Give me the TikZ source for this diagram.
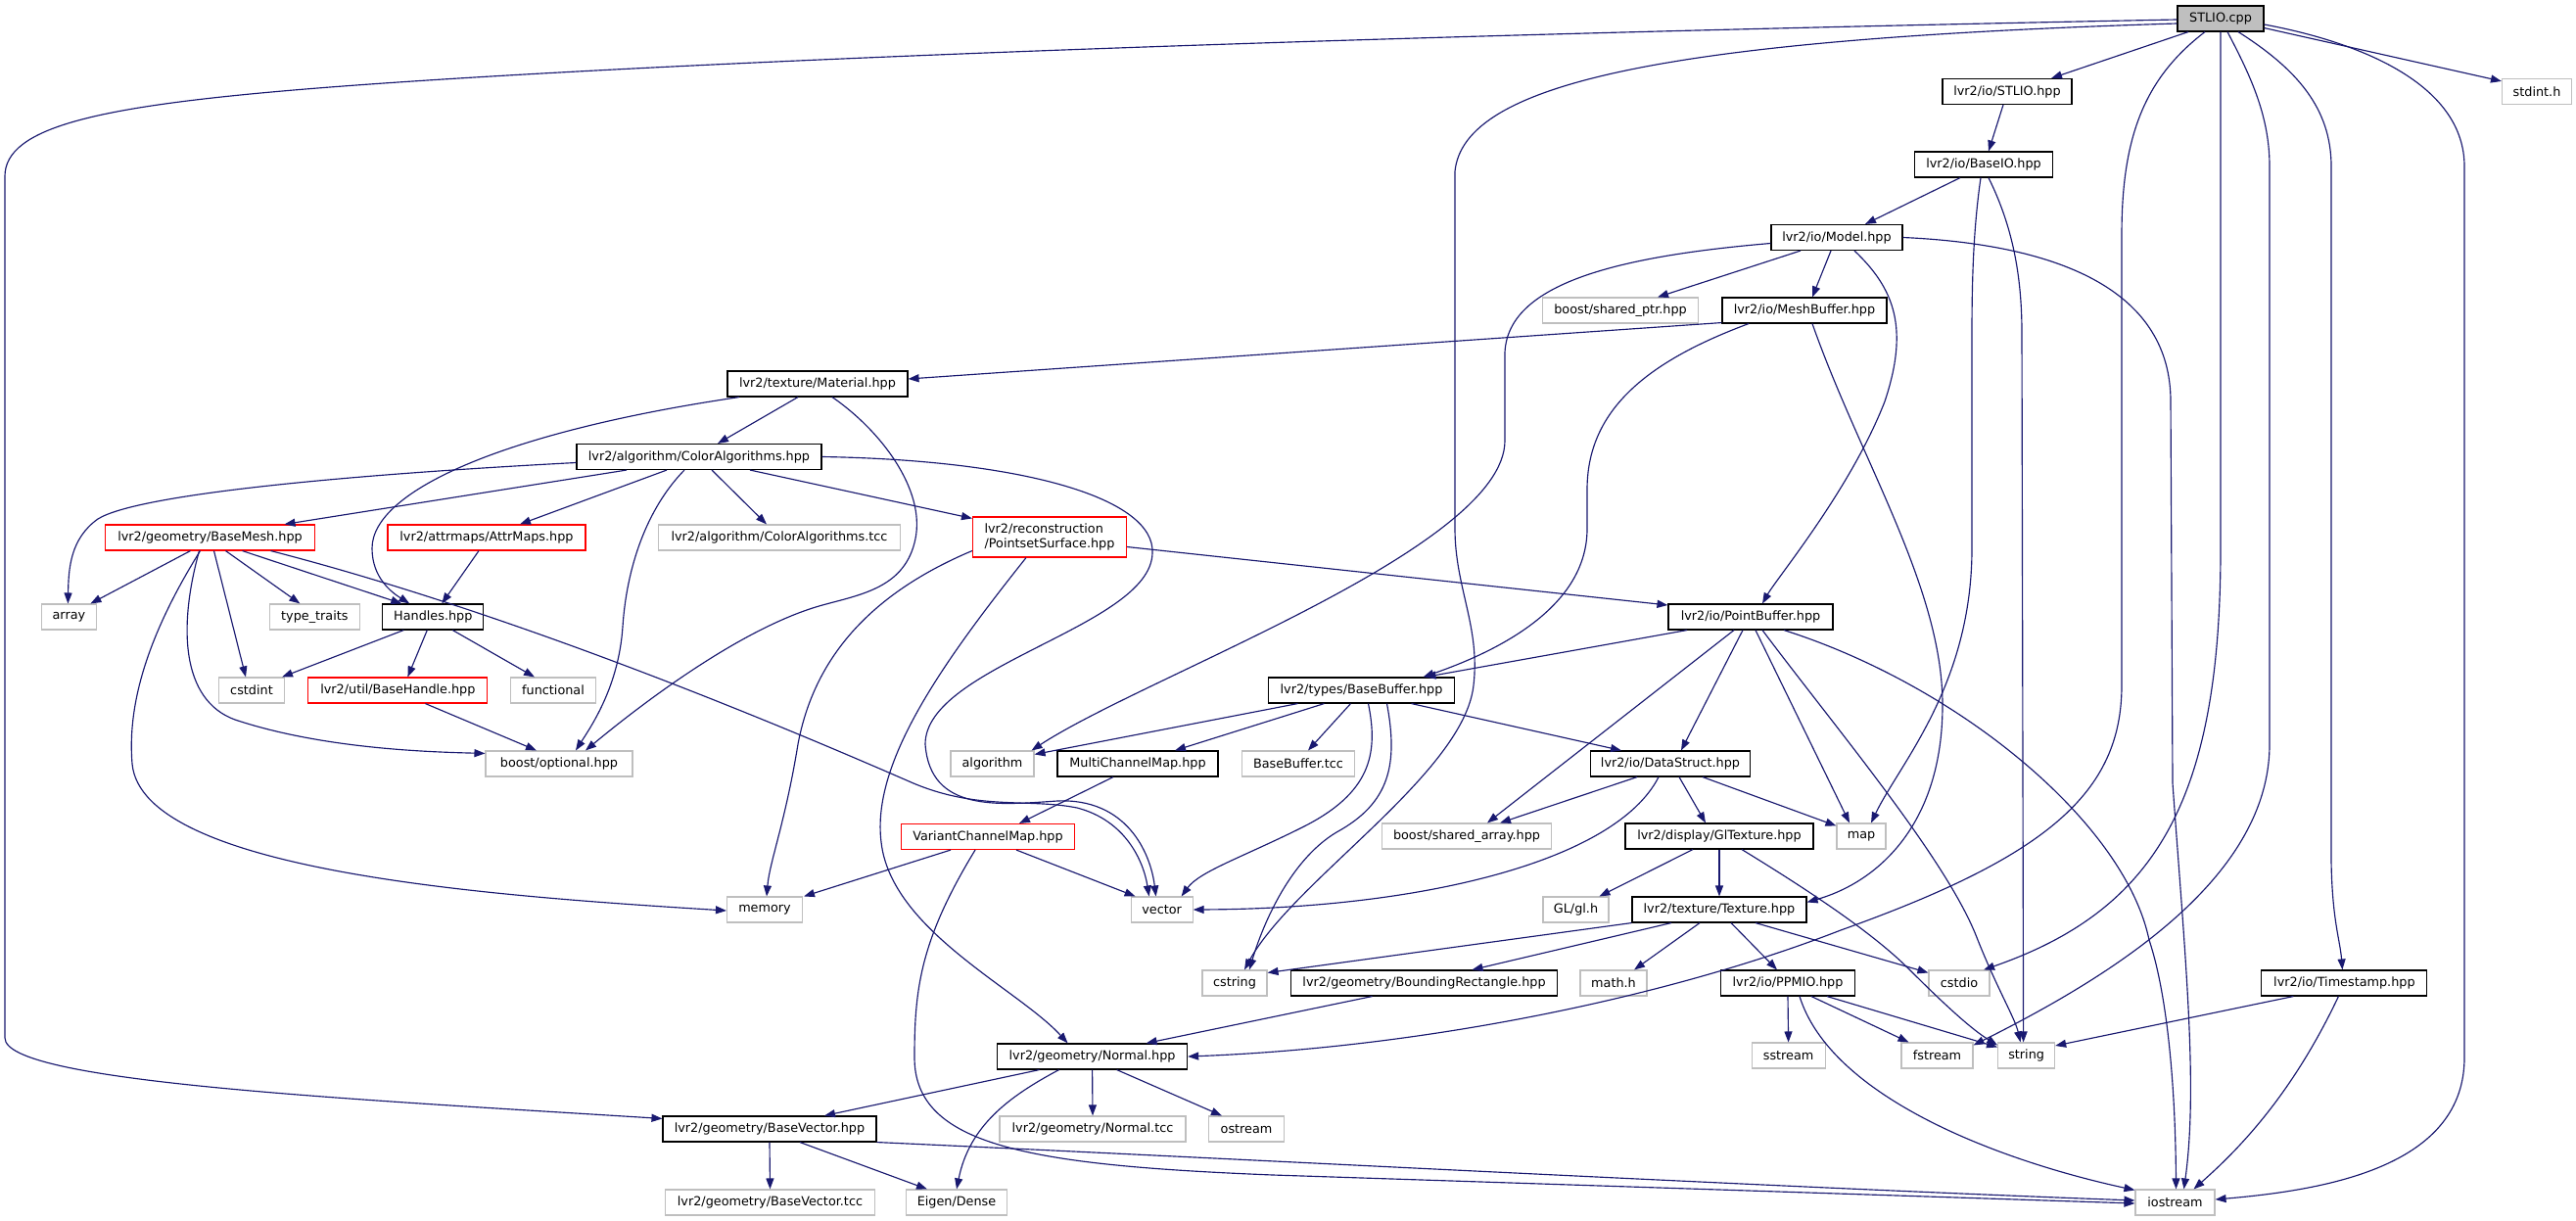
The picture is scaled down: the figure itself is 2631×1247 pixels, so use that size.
\documentclass[tikz,border=0pt]{standalone}
\usepackage{fontspec}
\setmainfont{DejaVu Sans}
\usetikzlibrary{arrows.meta}
\definecolor{eblue}{HTML}{191970}
\definecolor{gborder}{HTML}{BFBFBF}
\definecolor{rootfill}{HTML}{BFBFBF}
\definecolor{rborder}{HTML}{FF0000}
\newcommand{\nodefnt}{\fontsize{12.8}{15}\selectfont}
\tikzset{
  nb/.style={draw=black, line width=1.1pt, fill=white, minimum height=26pt, inner sep=0pt, font=\nodefnt},
  ng/.style={nb, draw=gborder},
  nr/.style={nb, draw=rborder},
  e/.style={draw=eblue, line width=1.15pt, -{Triangle[length=11pt,width=8pt]}}
}
\begin{document}
\begin{tikzpicture}[x=1pt,y=-1pt]
\fill[white] (0,0) rectangle (2631,1247);
\useasboundingbox (0,0) rectangle (2631,1247);

% nodes
\node[nb, fill=rootfill, minimum width=88pt] (root) at (2268,19) {STLIO.cpp};
\node[nb, minimum width=132pt] (stliohpp) at (2050,93.5) {lvr2/io/STLIO.hpp};
\node[ng, minimum width=71pt] (stdint) at (2591,93.5) {stdint.h};
\node[nb, minimum width=141pt] (baseio) at (2026,168) {lvr2/io/BaseIO.hpp};
\node[nb, minimum width=134pt] (model) at (1876,242.5) {lvr2/io/Model.hpp};
\node[ng, minimum width=159pt] (sharedptr) at (1655,317) {boost/shared\_ptr.hpp};
\node[nb, minimum width=168pt] (meshbuf) at (1843,317) {lvr2/io/MeshBuffer.hpp};
\node[nb, minimum width=184pt] (material) at (835,392) {lvr2/texture/Material.hpp};
\node[nb, minimum width=250pt] (coloralg) at (714,466.5) {lvr2/algorithm/ColorAlgorithms.hpp};
\node[nr, minimum width=214pt] (basemesh) at (214.5,549) {lvr2/geometry/BaseMesh.hpp};
\node[nr, minimum width=202pt] (attrmaps) at (497,549) {lvr2/attrmaps/AttrMaps.hpp};
\node[ng, minimum width=247pt] (coltcc) at (796,549) {lvr2/algorithm/ColorAlgorithms.tcc};
\node[nr, minimum width=157pt, minimum height=41pt, align=left] (pss) at (1072,548.5) {lvr2/reconstruction\\/PointsetSurface.hpp};
\node[ng, minimum width=56pt] (array) at (70.4,630) {array};
\node[ng, minimum width=92pt] (typetraits) at (321.4,630) {type\_traits};
\node[nb, minimum width=103pt] (handles) at (442.3,630) {Handles.hpp};
\node[nb, minimum width=168pt] (pointbuf) at (1788,630) {lvr2/io/PointBuffer.hpp};
\node[ng, minimum width=67pt] (cstdint) at (257,705) {cstdint};
\node[nr, minimum width=183pt] (basehandle) at (406.4,705) {lvr2/util/BaseHandle.hpp};
\node[ng, minimum width=87pt] (functional) at (565,705) {functional};
\node[nb, minimum width=190pt] (basebuf) at (1390.5,705) {lvr2/types/BaseBuffer.hpp};
\node[ng, minimum width=150pt] (optional) at (571,780) {boost/optional.hpp};
\node[ng, minimum width=85pt] (algorithm) at (1013.5,780) {algorithm};
\node[nb, minimum width=164pt] (mcm) at (1162,780) {MultiChannelMap.hpp};
\node[ng, minimum width=115pt] (bbtcc) at (1326,780) {BaseBuffer.tcc};
\node[nb, minimum width=163pt] (datastruct) at (1706,780) {lvr2/io/DataStruct.hpp};
\node[nr, minimum width=177pt] (vcm) at (1009,854.5) {VariantChannelMap.hpp};
\node[ng, minimum width=173pt] (sharedarr) at (1498,854) {boost/shared\_array.hpp};
\node[nb, minimum width=192pt] (gltex) at (1756,854) {lvr2/display/GlTexture.hpp};
\node[ng, minimum width=50pt] (map) at (1901,854) {map};
\node[ng, minimum width=77pt] (memory) at (781,929) {memory};
\node[ng, minimum width=63pt] (vector) at (1186.6,929) {vector};
\node[ng, minimum width=67pt] (glh) at (1609.5,929) {GL/gl.h};
\node[nb, minimum width=178pt] (texture) at (1756,929) {lvr2/texture/Texture.hpp};
\node[ng, minimum width=66pt] (cstring) at (1261,1004) {cstring};
\node[nb, minimum width=272pt] (boundrect) at (1454.5,1004) {lvr2/geometry/BoundingRectangle.hpp};
\node[ng, minimum width=68pt] (mathh) at (1648,1004) {math.h};
\node[nb, minimum width=137pt] (ppmio) at (1826,1004) {lvr2/io/PPMIO.hpp};
\node[ng, minimum width=62pt] (cstdio) at (2001,1004) {cstdio};
\node[nb, minimum width=169pt] (timestamp) at (2394.4,1004) {lvr2/io/Timestamp.hpp};
\node[nb, minimum width=194pt] (normal) at (1115.6,1079) {lvr2/geometry/Normal.hpp};
\node[ng, minimum width=75pt] (sstream) at (1826.6,1078) {sstream};
\node[ng, minimum width=73pt] (fstream) at (1978.5,1078) {fstream};
\node[ng, minimum width=58pt] (string) at (2069.6,1078) {string};
\node[nb, minimum width=218pt] (basevec) at (786,1153) {lvr2/geometry/BaseVector.hpp};
\node[ng, minimum width=190pt] (normaltcc) at (1116,1153) {lvr2/geometry/Normal.tcc};
\node[ng, minimum width=77pt] (ostream) at (1273,1153) {ostream};
\node[ng, minimum width=214pt] (bvtcc) at (786.5,1228) {lvr2/geometry/BaseVector.tcc};
\node[ng, minimum width=103pt] (eigen) at (977,1228) {Eigen/Dense};
\node[ng, minimum width=81pt] (iostream) at (2221.5,1228) {iostream};

% edges from STLIO.cpp
\draw[e] ([xshift=-33pt]root.south) -- ([xshift=45pt]stliohpp.north);
\draw[e] ([yshift=4pt]root.south east) -- ([yshift=-3pt]stdint.north west);
\draw[e] ([yshift=-1pt]root.west) .. controls (1200,40) and (560,70) .. (300,92) .. controls (100,109) and (5,130) .. (5,180) -- (5,1060) .. controls (5,1105) and (350,1122) .. ([yshift=-3pt]basevec.north west);
\draw[e] ([yshift=-5pt]root.west) .. controls (1700,40) and (1495,85) .. (1486,175) -- (1486,540) .. controls (1486,600) and (1512,640) .. (1505,700) .. controls (1495,790) and (1320,900) .. ([xshift=10pt]cstring.north);
\draw[e] ([xshift=-16pt]root.south) .. controls (2190,80) and (2167,140) .. (2167,240) -- (2167,700) .. controls (2167,810) and (2090,875) .. (1880,950) .. controls (1700,1020) and (1450,1070) .. (normal.east);
\draw[e] (root.south) -- (2268,560) .. controls (2268,820) and (2200,930) .. ([xshift=25pt]cstdio.north);
\draw[e] ([xshift=7pt]root.south) .. controls (2300,80) and (2318,120) .. (2318,170) -- (2318,760) .. controls (2318,900) and (2150,1000) .. ([yshift=-3pt]fstream.north east);
\draw[e] ([xshift=18pt]root.south) .. controls (2345,70) and (2381,110) .. (2381,170) -- (2381,880) .. controls (2382,940) and (2390,960) .. ([xshift=-2pt]timestamp.north);
\draw[e] ([yshift=-6pt]root.east) .. controls (2420,45) and (2517,90) .. (2517,170) -- (2517,1080) .. controls (2517,1190) and (2380,1215) .. ([yshift=3pt]iostream.east);

% STLIO.hpp, BaseIO
\draw[e] ([xshift=-4pt]stliohpp.south) -- ([xshift=5pt]baseio.north);
\draw[e] ([xshift=-24pt]baseio.south) -- ([xshift=29pt]model.north);
\draw[e] ([xshift=-3pt]baseio.south) .. controls (2016,230) and (2014,280) .. (2014,340) -- (2014,560) .. controls (2014,700) and (1940,780) .. ([xshift=10pt]map.north);
\draw[e] ([xshift=5pt]baseio.south) .. controls (2055,230) and (2065,280) .. (2065,340) -- ([xshift=-3pt]string.north);

% Model
\draw[e] ([xshift=-37pt]model.south) -- ([xshift=38pt]sharedptr.north);
\draw[e] ([xshift=-6pt]model.south) -- ([xshift=8pt]meshbuf.north);
\draw[e] ([xshift=18pt]model.south) .. controls (1935,295) and (1950,335) .. (1925,410) .. controls (1890,500) and (1815,590) .. ([xshift=12pt]pointbuf.north);
\draw[e] ([yshift=-6pt]model.west) .. controls (1650,262) and (1540,290) .. (1537,360) -- (1537,450) .. controls (1537,560) and (1170,690) .. ([xshift=-3pt]algorithm.north east);
\draw[e] (model.east) .. controls (2110,250) and (2217,300) .. (2217,410) -- (2219,800) .. controls (2232,980) and (2245,1110) .. ([xshift=9pt]iostream.north);

% MeshBuffer
\draw[e] ([yshift=1pt]meshbuf.south west) -- ([yshift=5pt]material.east);
\draw[e] ([xshift=-57pt]meshbuf.south) .. controls (1680,370) and (1621,420) .. (1621,500) -- (1621,540) .. controls (1621,620) and (1530,665) .. ([xshift=63pt]basebuf.north);
\draw[e] ([xshift=8pt]meshbuf.south) .. controls (1900,470) and (1984,600) .. (1984,720) .. controls (1984,840) and (1920,900) .. ([yshift=-6pt]texture.north east);

% Material
\draw[e] ([xshift=-20pt]material.south) -- ([xshift=19pt]coloralg.north);
\draw[e] ([xshift=-80pt]material.south) .. controls (520,440) and (380,500) .. (380,560) .. controls (380,590) and (400,605) .. ([xshift=-24pt]handles.north);
\draw[e] ([xshift=15pt]material.south) .. controls (900,440) and (945,500) .. (935,550) .. controls (925,600) and (880,607) .. (840,618) .. controls (760,640) and (660,715) .. ([xshift=27pt]optional.north);

% ColorAlgorithms
\draw[e] ([yshift=-6pt]coloralg.west) .. controls (350,485) and (140,505) .. (100,530) .. controls (72,550) and (70,580) .. ([xshift=-1pt]array.north);
\draw[e] ([xshift=-74pt]coloralg.south) -- ([xshift=76pt]basemesh.north);
\draw[e] ([xshift=-33pt]coloralg.south) -- ([xshift=34pt]attrmaps.north);
\draw[e] ([xshift=13pt]coloralg.south) -- ([xshift=-13pt]coltcc.north);
\draw[e] ([xshift=52pt]coloralg.south) -- ([yshift=-2pt]pss.north west);
\draw[e] ([xshift=-15pt]coloralg.south) .. controls (660,520) and (640,580) .. (636,640) .. controls (632,700) and (605,740) .. ([xshift=17pt]optional.north);
\draw[e] (coloralg.east) .. controls (1050,470) and (1180,510) .. (1177,565) .. controls (1175,640) and (945,680) .. (945,760) .. controls (950,830) and (1020,822) .. (1080,818) .. controls (1150,815) and (1175,870) .. ([xshift=-6pt]vector.north);

% BaseMesh
\draw[e] ([xshift=-20pt]basemesh.south) -- ([xshift=22pt]array.north);
\draw[e] ([xshift=16pt]basemesh.south) -- ([xshift=-15pt]typetraits.north);
\draw[e] ([xshift=33pt]basemesh.south) -- ([xshift=-32pt]handles.north);
\draw[e] ([xshift=4pt]basemesh.south) -- ([xshift=-6pt]cstdint.north);
\draw[e] ([xshift=-11pt]basemesh.south) .. controls (182,640) and (185,715) .. (240,735) .. controls (330,765) and (440,768) .. ([yshift=-3pt]optional.north west);
\draw[e] ([xshift=-10pt]basemesh.south) .. controls (150,650) and (130,720) .. (135,780) .. controls (145,890) and (500,915) .. ([yshift=-1pt]memory.west);
\draw[e] ([xshift=62pt]basemesh.south) .. controls (500,620) and (750,720) .. (933,800) .. controls (1000,828) and (1050,815) .. (1100,825) .. controls (1150,838) and (1168,880) .. ([xshift=-13pt]vector.north);

% AttrMaps, Handles, BaseHandle
\draw[e] ([xshift=-8pt]attrmaps.south) -- ([xshift=9pt]handles.north);
\draw[e] ([xshift=-30pt]handles.south) -- ([xshift=31pt]cstdint.north);
\draw[e] ([xshift=-6pt]handles.south) -- ([xshift=10pt]basehandle.north);
\draw[e] ([xshift=20pt]handles.south) -- ([xshift=-19pt]functional.north);
\draw[e] ([xshift=28pt]basehandle.south) -- ([xshift=-23pt]optional.north);

% PointsetSurface
\draw[e] ([yshift=-10pt]pss.east) -- ([yshift=12pt]pointbuf.west);
\draw[e] ([yshift=-14pt]pss.west) .. controls (880,610) and (830,680) .. (815,760) .. controls (802,840) and (786,880) .. ([xshift=2pt]memory.north);
\draw[e] ([xshift=-24pt]pss.south) .. controls (960,680) and (890,780) .. (900,860) .. controls (910,950) and (1040,1010) .. ([xshift=-25pt]normal.north);

% PointBuffer
\draw[e] ([xshift=-65pt]pointbuf.south) -- ([xshift=65pt]basebuf.north);
\draw[e] ([xshift=-8pt]pointbuf.south) -- ([xshift=11pt]datastruct.north);
\draw[e] ([xshift=-17pt]pointbuf.south) -- ([xshift=21pt]sharedarr.north);
\draw[e] ([xshift=5pt]pointbuf.south) -- ([xshift=-12pt]map.north);
\draw[e] ([xshift=12pt]pointbuf.south) .. controls (1880,750) and (1990,880) .. (2020,960) .. controls (2040,1010) and (2058,1040) .. ([xshift=-6pt]string.north);
\draw[e] ([xshift=34pt]pointbuf.south) .. controls (2000,700) and (2170,840) .. (2195,960) .. controls (2215,1020) and (2222,1120) .. ([xshift=1pt]iostream.north);

% BaseBuffer
\draw[e] ([xshift=-65pt]basebuf.south) -- ([yshift=-4pt]algorithm.north east);
\draw[e] ([xshift=-38pt]basebuf.south) -- ([xshift=38pt]mcm.north);
\draw[e] ([xshift=-11pt]basebuf.south) -- ([xshift=10pt]bbtcc.north);
\draw[e] ([xshift=51pt]basebuf.south) -- ([xshift=-50pt]datastruct.north);
\draw[e] ([xshift=7pt]basebuf.south) .. controls (1408,770) and (1400,810) .. (1330,845) .. controls (1270,875) and (1225,890) .. ([xshift=20pt]vector.north);
\draw[e] ([xshift=26pt]basebuf.south) .. controls (1428,780) and (1420,820) .. (1365,850) .. controls (1315,880) and (1288,950) .. ([xshift=15pt]cstring.north);

% MultiChannelMap, VariantChannelMap
\draw[e] ([xshift=-25pt]mcm.south) -- ([xshift=32pt]vcm.north);
\draw[e] ([xshift=-38pt]vcm.south) -- ([xshift=40pt]memory.north);
\draw[e] ([xshift=29pt]vcm.south) -- ([xshift=-27pt]vector.north);
\draw[e] ([xshift=-13pt]vcm.south) .. controls (940,960) and (934,1010) .. (934,1080) .. controls (934,1170) and (1050,1190) .. (1300,1200) -- ([yshift=-1pt]iostream.west);

% DataStruct
\draw[e] ([xshift=-34pt]datastruct.south) -- ([xshift=34pt]sharedarr.north);
\draw[e] ([xshift=9pt]datastruct.south) -- ([xshift=-14pt]gltex.north);
\draw[e] ([xshift=33pt]datastruct.south) -- ([yshift=-3pt]map.north west);
\draw[e] ([xshift=-12pt]datastruct.south) .. controls (1650,880) and (1450,928) .. (vector.east);

% GlTexture
\draw[e] ([xshift=-27pt]gltex.south) -- ([xshift=24pt]glh.north);
\draw[e] (gltex.south) -- (texture.north);
\draw[e] ([xshift=23pt]gltex.south) .. controls (1840,905) and (1910,950) .. (1950,990) .. controls (1990,1030) and (2015,1052) .. ([yshift=-3pt]string.north west);

% Texture
\draw[e] (texture.south west) -- ([yshift=-3pt]cstring.north east);
\draw[e] ([xshift=-49pt]texture.south) -- ([xshift=49pt]boundrect.north);
\draw[e] ([xshift=-20pt]texture.south) -- ([xshift=21pt]mathh.north);
\draw[e] ([xshift=12pt]texture.south) -- ([xshift=-11pt]ppmio.north);
\draw[e] ([xshift=37pt]texture.south) -- ([yshift=-3pt]cstdio.north west);

% BoundingRectangle, PPMIO
\draw[e] ([xshift=-53pt]boundrect.south) -- ([xshift=55pt]normal.north);
\draw[e] (ppmio.south) -- (sstream.north);
\draw[e] ([xshift=24pt]ppmio.south) -- ([xshift=-29pt]fstream.north);
\draw[e] ([xshift=40pt]ppmio.south) -- ([yshift=-5pt]string.north west);
\draw[e] ([xshift=12pt]ppmio.south) .. controls (1870,1120) and (2040,1185) .. ([yshift=-1pt]iostream.north west);

% Normal, BaseVector
\draw[e] ([xshift=-54pt]normal.south) -- ([xshift=56pt]basevec.north);
\draw[e] ([xshift=-34pt]normal.south) .. controls (1030,1120) and (990,1150) .. (eigen.north);
\draw[e] (normal.south) -- (normaltcc.north);
\draw[e] ([xshift=25pt]normal.south) -- ([xshift=-25pt]ostream.north);
\draw[e] (basevec.south) -- (bvtcc.north);
\draw[e] ([xshift=31pt]basevec.south) -- ([xshift=-30pt]eigen.north);
\draw[e] (basevec.south east) .. controls (1300,1185) and (1800,1212) .. ([yshift=2pt]iostream.west);

% Timestamp
\draw[e] ([xshift=-52pt]timestamp.south) -- ([yshift=10pt]string.east);
\draw[e] ([xshift=-6pt]timestamp.south) .. controls (2340,1120) and (2285,1175) .. ([xshift=19pt]iostream.north);
\end{tikzpicture}
\end{document}
